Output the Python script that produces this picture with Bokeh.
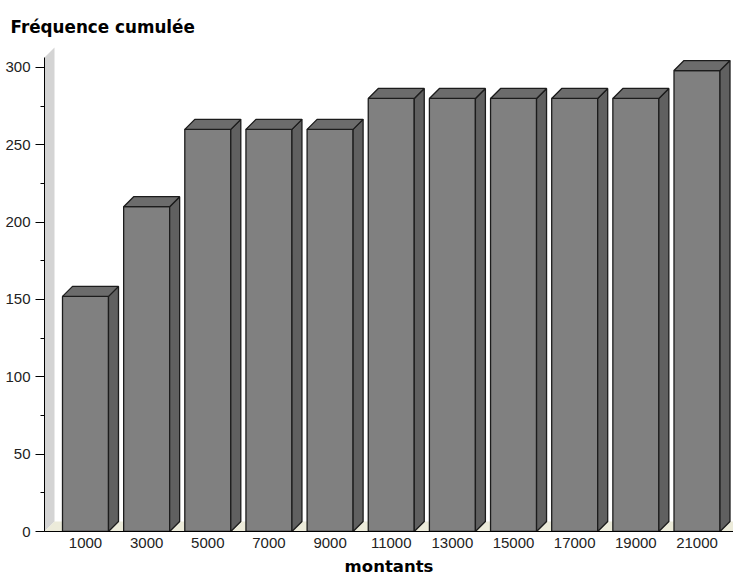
from bokeh.plotting import figure
from bokeh.models import Range1d, FixedTicker, SingleIntervalTicker, ColumnDataSource
from bokeh.embed import file_html
from bokeh.resources import INLINE

# ---- data ----
categories = ["1000", "3000", "5000", "7000", "9000", "11000",
              "13000", "15000", "17000", "19000", "21000"]
values = [152, 210, 260, 260, 260, 280, 280, 280, 280, 280, 298]
y_ticks_interval = 50
title_text = "Fréquence cumulée"
x_label = "montants"

# ---- layout constants (pixels) ----
W, H = 733, 579
B_LEFT, B_RIGHT, B_TOP, B_BOTTOM = 44, 0, 46, 48
PX_PER_CAT = 61.15       # pixel spacing between categories
FIRST_CENTER_OFF = 41    # px from frame left to first bar center
PX_PER_UNIT_Y = 1.5467
BAR_PX = 46
DEPTH_PX = 10
AXIS_TOP = 306.5

frame_w = W - B_LEFT - B_RIGHT
frame_h = H - B_TOP - B_BOTTOM
x0 = -FIRST_CENTER_OFF / PX_PER_CAT
x1 = x0 + frame_w / PX_PER_CAT
y1 = frame_h / PX_PER_UNIT_Y

bw = BAR_PX / PX_PER_CAT
dx = DEPTH_PX / PX_PER_CAT
dy = DEPTH_PX / PX_PER_UNIT_Y

FRONT = "#808080"
SIDE = "#606060"
TOP = "#6c6c6c"
EDGE = "#1c1c1c"
WALL = "#d4d4d4"
FLOOR = "#ecebda"

p = figure(width=W, height=H, output_backend="svg", toolbar_location=None,
           x_range=Range1d(x0, x1), y_range=Range1d(0, y1),
           min_border_left=B_LEFT, min_border_right=B_RIGHT,
           min_border_top=B_TOP, min_border_bottom=B_BOTTOM)
p.xgrid.visible = False
p.ygrid.visible = False
p.outline_line_color = None
p.background_fill_color = "white"
p.border_fill_color = "white"

# back wall and floor
p.patch([x0, x0, x0 + dx, x0 + dx], [0, AXIS_TOP, AXIS_TOP + dy, dy],
        fill_color=WALL, line_color=None)
p.patch([x0, x1 + 1, x1 + 1 + dx, x0 + dx], [0, 0, dy, dy],
        fill_color=FLOOR, line_color=None)

idx = list(range(len(categories)))
lefts = [i - bw / 2 for i in idx]
rights = [i + bw / 2 for i in idx]

side_xs, side_ys, top_xs, top_ys = [], [], [], []
for l, r, v in zip(lefts, rights, values):
    side_xs.append([r, r + dx, r + dx, r])
    side_ys.append([0, dy, v + dy, v])
    top_xs.append([l, l + dx, r + dx, r])
    top_ys.append([v, v + dy, v + dy, v])

src = ColumnDataSource(dict(left=lefts, right=rights, top=values,
                            bottom=[0] * len(values)))
p.quad(left="left", right="right", bottom="bottom", top="top", source=src,
       fill_color=FRONT, line_color=EDGE, line_width=1.3)
p.patches(side_xs, side_ys, fill_color=SIDE, line_color=EDGE, line_width=1.3)
p.patches(top_xs, top_ys, fill_color=TOP, line_color=EDGE, line_width=1.3)

# axes
p.xaxis.ticker = FixedTicker(ticks=idx)
p.xaxis.major_label_overrides = {i: c for i, c in zip(idx, categories)}
p.xaxis.major_tick_out = 0
p.xaxis.major_tick_in = 0
p.xaxis.minor_tick_out = 0
p.xaxis.minor_tick_in = 0
p.xaxis.major_label_standoff = 6
p.xaxis.axis_label = x_label
p.xaxis.axis_label_standoff = 6
p.xaxis.axis_label_text_font = "DejaVu Sans"
p.xaxis.axis_label_text_font_style = "bold"
p.xaxis.axis_label_text_font_size = "16.5px"
p.xaxis.axis_label_text_color = "#000000"

p.yaxis.ticker = SingleIntervalTicker(interval=y_ticks_interval, num_minor_ticks=2)
p.yaxis.bounds = (0, AXIS_TOP)
p.yaxis.major_tick_out = 9
p.yaxis.major_tick_in = 0
p.yaxis.minor_tick_out = 4
p.yaxis.minor_tick_in = 0
p.yaxis.major_label_standoff = 5

for ax in (p.xaxis, p.yaxis):
    ax.axis_line_color = "#000000"
    ax.major_tick_line_color = "#000000"
    ax.minor_tick_line_color = "#000000"
    ax.major_label_text_font = "Liberation Sans"
    ax.major_label_text_font_size = "15px"
    ax.major_label_text_color = "#222222"

p.title.text = title_text
p.title.text_font = "DejaVu Sans"
p.title.text_font_style = "bold"
p.title.text_font_size = "16.8px"
p.title.text_color = "#000000"
p.title.align = "left"
p.title.offset = -34
p.title.standoff = 20

open("out.html", "w").write(file_html(p, INLINE))
